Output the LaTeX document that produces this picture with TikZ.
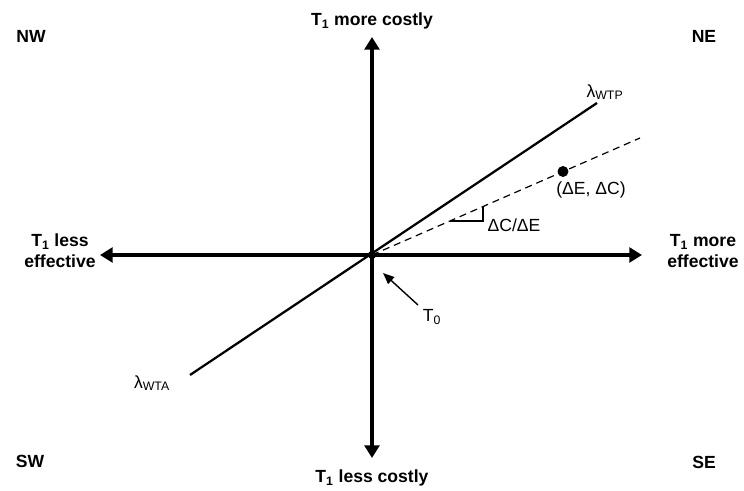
\documentclass[tikz,border=0pt]{standalone}
\usepackage{fontspec}
\setmainfont{Liberation Sans}
\usetikzlibrary{arrows.meta}

\tikzset{
  axis/.style={line width=2.4pt, {Triangle[length=9pt,width=10.5pt]}-{Triangle[length=9pt,width=10.5pt]}},
  boldlab/.style={font=\fontsize{12.5}{15}\selectfont\bfseries, align=center},
  thinlab/.style={font=\fontsize{12.5}{15}\selectfont},
}

\begin{document}
\begin{tikzpicture}[x=0.025cm, y=0.025cm]
		\useasboundingbox (-372,255) rectangle (372,-236);
		\coordinate (O) at (0,0);
		\coordinate (west) at (-272,0);
		\coordinate (east) at (270,0);
		\coordinate (north) at (0,218);
		\coordinate (south) at (0,-203);
		\draw[axis] (west) -- (east);
		\draw[axis] (south) -- (north);
		% threshold line and ICER line
		\coordinate (wta) at (-182,-120);
		\coordinate (wtp) at (225,152);
		\draw[line width=1.6pt] (wta) -- (wtp);
		\coordinate (dend) at (268,117);
		\draw[dashed, line width=0.85pt, dash pattern=on 5pt off 3.5pt] (O) -- (dend);
		\node[circle, inner sep=0pt, minimum size=7.8pt, fill=black] (pt) at (191,83.5){};
		\node[circle, inner sep=0pt, minimum size=5.8pt, fill=black] (orig) at (O){};
		% slope triangle
		\coordinate (s1) at (78,34);
		\coordinate (s2) at (111,34);
		\coordinate (s3) at (111,48.5);
		\draw[line width=0.8pt] (s1) -- (s2) -- (s3);
		% labels
		\node[boldlab] (nw) at (-341,219){NW};
		\node[boldlab] (ne) at (332,219){NE};
		\node[boldlab] (sw) at (-342,-206){SW};
		\node[boldlab] (se) at (332,-207){SE};
		\node[boldlab] (up) at (0,234){T\textsubscript{1} more costly};
		\node[boldlab] (down) at (0,-223){T\textsubscript{1} less costly};
		\node[boldlab] (left) at (-312,4){T\textsubscript{1} less\\effective};
		\node[boldlab] (right) at (331,4){T\textsubscript{1} more\\effective};
		\node[thinlab] (lwtp) at (233,163){λ\textsubscript{WTP}};
		\node[thinlab] (lwta) at (-220,-128){λ\textsubscript{WTA}};
		\node[thinlab] (icer) at (219,65){(ΔE, ΔC)};
		\node[thinlab] (slope) at (142,30){ΔC/ΔE};
		\node[thinlab] (tzero) at (60,-62){T\textsubscript{0}};
		\coordinate (a0) at (46,-50);
		\coordinate (a1) at (11,-18);
		\draw[line width=1pt, -{Triangle[length=8pt,width=6.5pt]}] (a0) -- (a1);
\end{tikzpicture}
\end{document}
